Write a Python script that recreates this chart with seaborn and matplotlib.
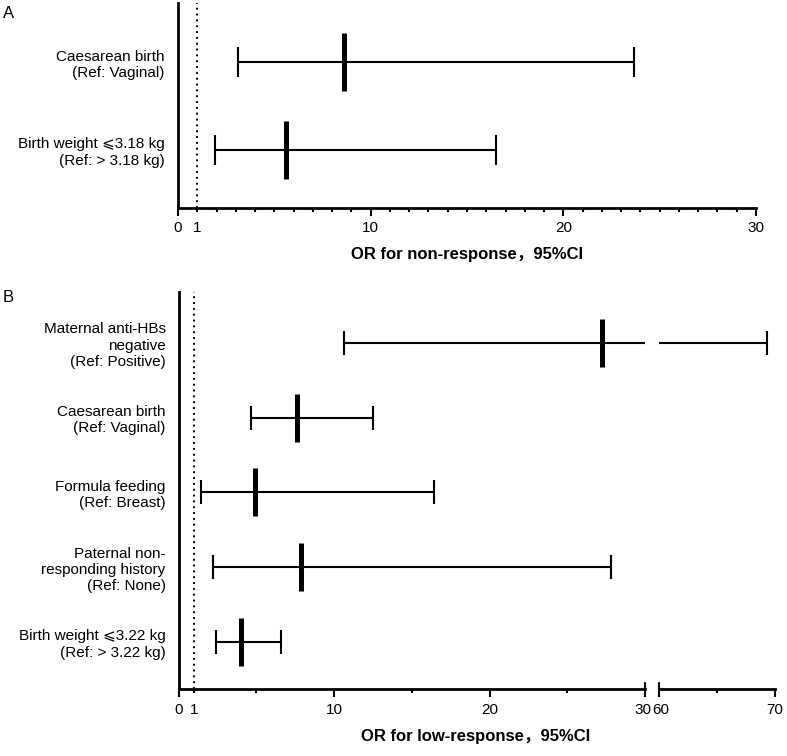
import matplotlib
matplotlib.use("Agg")
import matplotlib.pyplot as plt
import matplotlib.transforms as mtransforms
import seaborn as sns

# Panel A: non-response
labels_a = ["Caesarean birth\n(Ref: Vaginal)",
            "Birth weight \u2a7d3.18 kg\n(Ref: > 3.18 kg)"]
or_a = [8.6, 5.6]
lo_a = [3.13, 1.92]
hi_a = [23.65, 16.5]

# Panel B: low-response
labels_b = ["Maternal anti-HBs\nnegative\n(Ref: Positive)",
            "Caesarean birth\n(Ref: Vaginal)",
            "Formula feeding\n(Ref: Breast)",
            "Paternal non-\nresponding history\n(Ref: None)",
            "Birth weight \u2a7d3.22 kg\n(Ref: > 3.22 kg)"]
or_b = [27.2, 7.6, 4.9, 7.85, 3.99]
lo_b = [10.64, 4.63, 1.45, 2.21, 2.42]
hi_b = [69.3, 12.5, 16.4, 27.8, 6.58]

ticks_a = [0, 1, 10, 20, 30]
ticks_b_left = [0, 1, 10, 20, 30]
ticks_b_right = [60, 70]

sns.set_style("ticks")
plt.rcParams['font.family'] = ['Liberation Sans', 'DejaVu Sans', 'Noto Sans CJK SC']
plt.rcParams.update({
    'axes.linewidth': 2.0,
    'axes.edgecolor': 'black',
    'xtick.color': 'black',
    'ytick.color': 'black',
    'text.color': 'black',
    'axes.labelcolor': 'black',
})

fig = plt.figure(figsize=(7.87, 7.56), dpi=100)


def forest(ax, orv, lo, hi, cap, bar_len):
    rows = list(range(len(orv)))
    ax.errorbar(x=orv, y=rows,
                xerr=[[o - l for o, l in zip(orv, lo)], [h - o for o, h in zip(orv, hi)]],
                fmt='none', ecolor='black', elinewidth=1.5, capsize=cap, capthick=1.5, zorder=2)
    sns.scatterplot(x=orv, y=rows, marker='|', s=bar_len ** 2, color='black',
                    linewidth=3.6, ax=ax, zorder=3, legend=False)
    return rows


def style_x(ax, major, minor):
    ax.set_xticks(major)
    ax.set_xticks(minor, minor=True)
    ax.tick_params(axis='x', which='major', length=5.5, width=1.5, labelsize=11, pad=4)
    ax.tick_params(axis='x', which='minor', length=3, width=1.5)
    ax.tick_params(axis='y', length=0, labelsize=11, pad=9.5)
    ax.set_xlabel("")
    ax.set_ylabel("")


# ---- Panel A ----
axA = fig.add_axes([0.2262, 0.7245, 0.7344, 0.2711])
rows_a = forest(axA, or_a, lo_a, hi_a, cap=10.5, bar_len=42)
axA.axvline(1, color='black', lw=1.4, ls=(0, (1, 2)), zorder=1)
axA.set_xlim(0, 30)
axA.set_ylim(1.665, -0.673)
style_x(axA, ticks_a, list(range(0, 31)))
axA.set_yticks(rows_a)
axA.set_yticklabels(labels_a)
axA.xaxis.get_major_ticks()[1].tick1line.set_markersize(3)
sns.despine(ax=axA)

# ---- Panel B (broken axis) ----
axB1 = fig.add_axes([0.2271, 0.0882, 0.5925, 0.526])
axB2 = fig.add_axes([0.8377, 0.0882, 0.1470, 0.526], sharey=axB1)
for ax in (axB1, axB2):
    rows_b = forest(ax, or_b, lo_b, hi_b, cap=8.6, bar_len=34.5)
axB1.axvline(1, color='black', lw=1.4, ls=(0, (1, 2)), zorder=1)
axB1.set_xlim(0, 30)
axB2.set_xlim(60, 70)
axB1.set_ylim(4.633, -0.686)
style_x(axB1, ticks_b_left, [5, 15, 25])
style_x(axB2, ticks_b_right, [65])
axB1.set_yticks(rows_b)
axB1.set_yticklabels(labels_b)
axB1.xaxis.get_major_ticks()[1].tick1line.set_markersize(3)
sns.despine(ax=axB1)
sns.despine(ax=axB2, left=True)
axB2.tick_params(axis='y', left=False, labelleft=False)

# nudge the touching "30" / "60" labels apart a little
shift = lambda dx: mtransforms.ScaledTranslation(dx / 72, 0, fig.dpi_scale_trans)
lbl30 = axB1.xaxis.get_major_ticks()[-1].label1
lbl30.set_transform(lbl30.get_transform() + shift(-1.2))
lbl60 = axB2.xaxis.get_major_ticks()[0].label1
lbl60.set_transform(lbl60.get_transform() + shift(1.2))

# break marks
axB1.plot([1, 1], [0, 0.015], transform=axB1.transAxes, color='black', lw=1.5, clip_on=False)
axB2.plot([0, 0], [0, 0.015], transform=axB2.transAxes, color='black', lw=1.5, clip_on=False)

# axis titles and panel letters
fig.text(467 / 787, 1 - 255 / 756, "OR for non-response\uff0c95%CI",
         ha='center', va='center', fontsize=12, fontweight='bold')
fig.text(476 / 787, 1 - 736 / 756, "OR for low-response\uff0c95%CI",
         ha='center', va='center', fontsize=12, fontweight='bold')
fig.text(3 / 787, 1 - 13 / 756, "A", ha='left', va='center', fontsize=12)
fig.text(3 / 787, 1 - 298 / 756, "B", ha='left', va='center', fontsize=12)

fig.savefig("out.png", dpi=100)
